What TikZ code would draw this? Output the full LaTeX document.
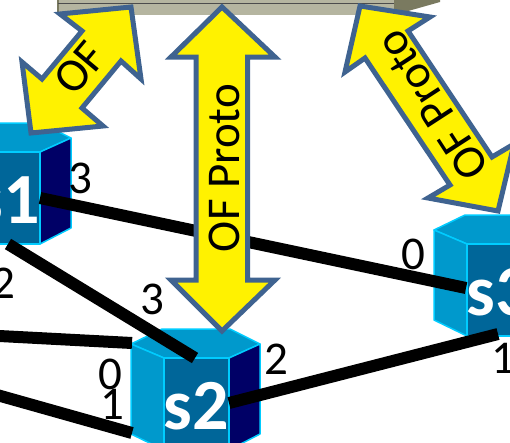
\documentclass[tikz,border=0pt]{standalone}
\usepackage{fontspec}
\setmainfont{Carlito}
\usepackage{tikz}
\definecolor{boxtop}{HTML}{0099CC}
\definecolor{boxfront}{HTML}{006699}
\definecolor{boxside}{HTML}{000066}
\definecolor{boxedge}{HTML}{00CCFF}
\definecolor{arrowedge}{HTML}{3F6390}
\definecolor{barfront}{HTML}{B5B5A0}
\definecolor{bardark}{HTML}{7A7A60}
\tikzset{
    face/.style={draw=boxedge, line width=1.5pt, line join=round}, % faces of a switch box
    bigarrow/.style={draw=arrowedge, fill=yellow, line width=5pt, miter limit=10}, % double arrows
    link/.style={line width=12pt, black}, % data plane links
    port/.style={font=\fontsize{47}{47}\selectfont, inner sep=0pt},
    arrowtext/.style={font=\fontsize{47}{47}\selectfont, inner sep=0pt},
    swlabel/.style={font=\fontsize{72}{72}\selectfont\bfseries, text=white, inner sep=0pt, anchor=base},
}
% one switch box, #1 name, (#2,#3) top left corner of the front face
\newcommand{\switchbox}[3]{
  \draw[face, fill=boxtop] (#2-33,#3-14) -- (#2,#3) -- (#2+65,#3) -- (#2+96,#3-14) -- (#2+66,#3-29) -- (#2-2,#3-29) -- cycle;
  \draw[face, fill=boxtop] (#2-33,#3-14) -- (#2,#3) -- (#2,#3+92) -- (#2-33,#3+76) -- cycle;
  \draw[face, fill=boxside] (#2+65,#3) -- (#2+96,#3-14) -- (#2+96,#3+76) -- (#2+65,#3+92) -- cycle;
  \draw[face, fill=boxfront] (#2,#3) -- (#2+65,#3) -- (#2+65,#3+92) -- (#2,#3+92) -- cycle;
  \node[swlabel] (#1) at (#2+32.5,#3+71) {#1};
}
\begin{document}
\begin{tikzpicture}[x=1pt, y=-1pt]
\useasboundingbox (0,0) rectangle (510,442);
\clip (0,0) rectangle (510,442);

% controller
\fill[bardark] (394,0) -- (440,0) -- (440,2) -- (394,15) -- cycle;
\fill[barfront] (57,0) rectangle (394,15);
\draw[bardark, line width=2pt] (58,0) -- (58,15);
\draw[black!70, line width=1.5pt] (58,3.5) -- (394,3.5);

% switches
\switchbox{s1}{-25}{152}
\switchbox{s2}{164}{358}
\switchbox{s3}{467}{244}

% links
\coordinate (s1r) at (40,198);
\coordinate (s1b) at (8,244);
\coordinate (s2t) at (195,358);
\coordinate (s2a) at (132,343);
\coordinate (s2c) at (132,433);
\coordinate (s2r) at (229,403);
\coordinate (s3l) at (466,288);
\coordinate (s3b) at (498,334);
\coordinate (hostA) at (-10,335.5);
\coordinate (hostB) at (-10,393);
\draw[link] (s1r) -- (s3l);
\draw[link] (s1b) -- (s2t);
\draw[link] (hostA) -- (s2a);
\draw[link] (hostB) -- (s2c);
\draw[link] (s2r) -- (s3b);

% control channels
\draw[bigarrow] (131,7) -- (60,14) -- (82,31) -- (42,79) -- (22,62) -- (31,133) -- (103,126) -- (82,108) -- (121,61) -- (141,79) -- cycle;
\draw[bigarrow] (222,7) -- (275,57) -- (247.5,57) -- (247.5,280) -- (275,280) -- (222,331) -- (171,280) -- (196,280) -- (196,57) -- (171,57) -- cycle;
\draw[bigarrow] (360,6) -- (430,17) -- (408,31) -- (492,157) -- (514,144) -- (498,211) -- (428,198) -- (450,185) -- (365,58) -- (345,72) -- cycle;
\node[arrowtext, rotate=50] (ofA) at (80,68) {OF};
\node[arrowtext, rotate=90] (ofB) at (224,168) {OF Proto};
\node[arrowtext, rotate=123] (ofC) at (432,105) {OF Proto};

% port numbers
\node[port] (p13) at (80,178) {3};
\node[port] (p12) at (3,283) {2};
\node[port] (p23) at (152,299) {3};
\node[port] (p20) at (110,374) {0};
\node[port] (p21) at (112,404) {1};
\node[port] (p22) at (276,359) {2};
\node[port] (p30) at (413,254) {0};
\node[port] (p31) at (503,358) {1};
\end{tikzpicture}
\end{document}
